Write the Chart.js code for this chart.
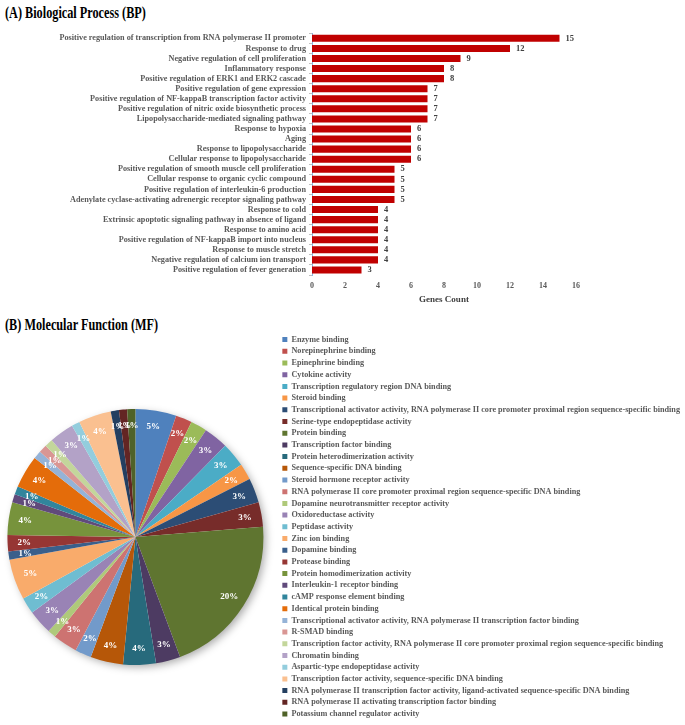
<!DOCTYPE html>
<html><head><meta charset="utf-8">
<script src="https://cdn.jsdelivr.net/npm/chart.js@4.4.0/dist/chart.umd.min.js"></script>
<style>
html,body{margin:0;padding:0;width:685px;height:725px;overflow:hidden;background:#fff;}
.t{position:absolute;left:5px;font-family:"Liberation Serif","Times New Roman",serif;font-weight:bold;font-size:17px;line-height:20px;color:#000;transform-origin:0 0;transform:scaleX(0.72);white-space:nowrap;}
#c1{position:absolute;left:0;top:25px;}
#c2{position:absolute;left:-8px;top:332px;}
</style></head><body>
<div class="t" style="top:3px">(A) Biological Process (BP)</div>
<div class="t" style="top:315px">(B) Molecular Function (MF)</div>
<canvas id="c1" width="685" height="290"></canvas>
<canvas id="c2" width="698" height="410"></canvas>
<script>
const bpTerms = [
  "Positive regulation of transcription from RNA polymerase II promoter",
  "Response to drug",
  "Negative regulation of cell proliferation",
  "Inflammatory response",
  "Positive regulation of ERK1 and ERK2 cascade",
  "Positive regulation of gene expression",
  "Positive regulation of NF-kappaB transcription factor activity",
  "Positive regulation of nitric oxide biosynthetic process",
  "Lipopolysaccharide-mediated signaling pathway",
  "Response to hypoxia",
  "Aging",
  "Response to lipopolysaccharide",
  "Cellular response to lipopolysaccharide",
  "Positive regulation of smooth muscle cell proliferation",
  "Cellular response to organic cyclic compound",
  "Positive regulation of interleukin-6 production",
  "Adenylate cyclase-activating adrenergic receptor signaling pathway",
  "Response to cold",
  "Extrinsic apoptotic signaling pathway in absence of ligand",
  "Response to amino acid",
  "Positive regulation of NF-kappaB import into nucleus",
  "Response to muscle stretch",
  "Negative regulation of calcium ion transport",
  "Positive regulation of fever generation"
];
const bpCounts = [15,12,9,8,8,7,7,7,7,6,6,6,6,5,5,5,5,4,4,4,4,4,4,3];
const bpTicks = [0,2,4,6,8,10,12,14,16];

const mfTerms = [
  "Enzyme binding",
  "Norepinephrine binding",
  "Epinephrine binding",
  "Cytokine activity",
  "Transcription regulatory region DNA binding",
  "Steroid binding",
  "Transcriptional activator activity, RNA polymerase II core promoter proximal region sequence-specific binding",
  "Serine-type endopeptidase activity",
  "Protein binding",
  "Transcription factor binding",
  "Protein heterodimerization activity",
  "Sequence-specific DNA binding",
  "Steroid hormone receptor activity",
  "RNA polymerase II core promoter proximal region sequence-specific DNA binding",
  "Dopamine neurotransmitter receptor activity",
  "Oxidoreductase activity",
  "Peptidase activity",
  "Zinc ion binding",
  "Dopamine binding",
  "Protease binding",
  "Protein homodimerization activity",
  "Interleukin-1 receptor binding",
  "cAMP response element binding",
  "Identical protein binding",
  "Transcriptional activator activity, RNA polymerase II transcription factor binding",
  "R-SMAD binding",
  "Transcription factor activity, RNA polymerase II core promoter proximal region sequence-specific binding",
  "Chromatin binding",
  "Aspartic-type endopeptidase activity",
  "Transcription factor activity, sequence-specific DNA binding",
  "RNA polymerase II transcription factor activity, ligand-activated sequence-specific DNA binding",
  "RNA polymerase II activating transcription factor binding",
  "Potassium channel regulator activity"
];
const mfPct = [5,2,2,3,3,2,3,3,20,3,4,4,2,3,1,3,2,5,1,2,4,1,1,4,1,1,1,3,1,4,1,1,1];
const mfColors = [
  "#4F81BD","#C0504D","#9BBB59","#8064A2","#4BACC6","#F79646",
  "#2C4D75","#772C2A","#5F7530","#4D3B62","#276A7C","#B65708",
  "#729ACA","#CD7371","#AFC97A","#9983B5","#6FBDD1","#F9AB6B",
  "#3A5F8B","#963634","#77933C","#604A7B","#31859C","#E46C0A",
  "#95B3D7","#D99694","#C3D69B","#B3A2C7","#93CDDD","#FAC090",
  "#243F60","#632523","#4F6228"
];

const SERIF = '"Liberation Serif","Times New Roman",serif';
const GREY = '#595959';

const barValues = {
  id: 'barValues',
  afterDatasetsDraw(chart) {
    const meta = chart.getDatasetMeta(0);
    const ctx = chart.ctx;
    ctx.save();
    ctx.font = 'bold 8.5px ' + SERIF;
    ctx.fillStyle = '#404040';
    ctx.textAlign = 'left';
    ctx.textBaseline = 'middle';
    meta.data.forEach((b, i) => ctx.fillText(String(bpCounts[i]), b.x + 6, b.y));
    ctx.restore();
  }
};

new Chart(document.getElementById('c1'), {
  type: 'bar',
  data: {
    labels: bpTerms,
    datasets: [{ data: bpCounts, backgroundColor: '#C00000', borderWidth: 0,
      categoryPercentage: 1, barPercentage: 0.7 }]
  },
  options: {
    indexAxis: 'y', responsive: false, animation: false,
    layout: { padding: { top: 8.3, right: 109, left: 0, bottom: 0 } },
    plugins: { legend: { display: false }, tooltip: { enabled: false } },
    scales: {
      x: {
        min: 0, max: 16,
        afterFit(s) { s.height = 40; },
        afterBuildTicks(s) { s.ticks = bpTicks.map(v => ({ value: v })); },
        grid: { display: false, drawTicks: false },
        border: { display: false },
        ticks: { padding: 6, color: GREY, font: { family: SERIF, size: 8, weight: 'bold' } },
        title: { display: true, text: 'Genes Count', color: '#404040',
          padding: { top: 0, bottom: 10 }, font: { family: SERIF, size: 9, weight: 'bold' } }
      },
      y: {
        afterFit(s) { s.width = 312; },
        grid: { display: true, drawOnChartArea: false, drawTicks: true, tickLength: 3, color: '#BFBFBF' },
        border: { display: true, color: '#8DB4E2', width: 1 },
        ticks: { padding: 3, autoSkip: false, color: GREY, font: { family: SERIF, size: 8.2, weight: 'bold' } }
      }
    }
  },
  plugins: [barValues]
});

const pieDecor = {
  id: 'pieDecor',
  beforeDatasetsDraw(chart) {
    const a = chart.getDatasetMeta(0).data[0];
    if (!a) return;
    const ctx = chart.ctx;
    ctx.save();
    ctx.shadowColor = 'rgba(0,0,0,0.35)';
    ctx.shadowBlur = 8; ctx.shadowOffsetX = 3; ctx.shadowOffsetY = 3;
    ctx.beginPath(); ctx.arc(a.x, a.y, a.outerRadius - 1, 0, Math.PI * 2);
    ctx.fillStyle = '#ffffff'; ctx.fill();
    ctx.restore();
  },
  afterDatasetsDraw(chart) {
    const meta = chart.getDatasetMeta(0);
    const ctx = chart.ctx;
    ctx.save();
    ctx.font = 'bold 9px ' + SERIF;
    ctx.fillStyle = '#ffffff';
    ctx.textAlign = 'center';
    ctx.textBaseline = 'middle';
    meta.data.forEach((arc, i) => {
      const m = (arc.startAngle + arc.endAngle) / 2;
      const r = arc.outerRadius * 0.87;
      ctx.fillText(mfPct[i] + '%', arc.x + Math.cos(m) * r, arc.y + Math.sin(m) * r);
    });
    ctx.restore();
  }
};

new Chart(document.getElementById('c2'), {
  type: 'pie',
  data: {
    labels: mfTerms,
    datasets: [{ data: mfPct, backgroundColor: mfColors, borderWidth: 0, radius: 128 }]
  },
  options: {
    responsive: false, animation: false,
    layout: { padding: 0 },
    plugins: {
      tooltip: { enabled: false },
      legend: {
        position: 'right', align: 'start', maxWidth: 520,
        labels: { boxWidth: 5, boxHeight: 5, padding: 3.5, color: GREY,
          font: { family: SERIF, size: 8.2, weight: 'bold' } }
      }
    }
  },
  plugins: [pieDecor]
});
</script>
</body></html>
